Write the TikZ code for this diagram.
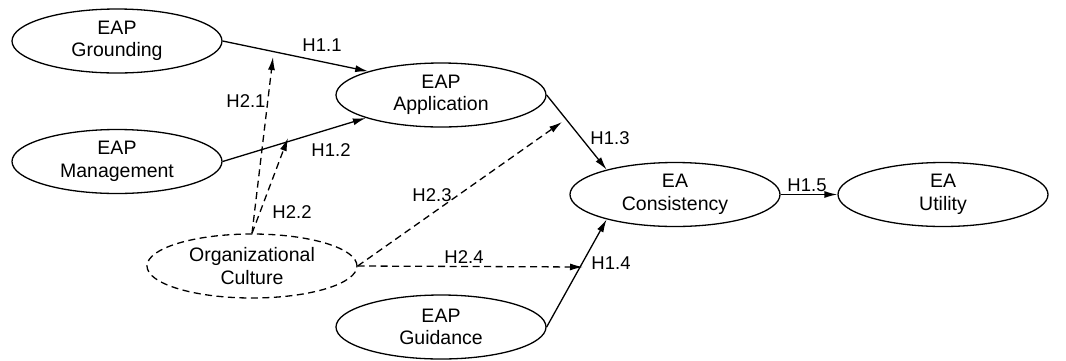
\documentclass[tikz,border=0pt]{standalone}
\usepackage{fontspec}
\setmainfont{Liberation Sans}
\usetikzlibrary{shapes.geometric,arrows.meta}
\tikzset{
  construct/.style={ellipse, draw, line width=1.3pt, minimum width=210pt, minimum height=64pt, inner sep=0pt, align=center, font=\fontsize{19.5}{22.5}\selectfont},
  dashedconstruct/.style={construct, dash pattern=on 7pt off 4.5pt},
  rel/.style={line width=1.3pt, -{Latex[length=13pt,width=7pt]}},
  mod/.style={rel, dash pattern=on 7pt off 4.5pt},
  hlabel/.style={font=\fontsize{18.5}{20}\selectfont, inner sep=0pt}
}
\begin{document}
\begin{tikzpicture}[x=1pt,y=-1pt]
\useasboundingbox (0,0) rectangle (1066,360);
\node[construct] (G) at (117,41) {EAP\\Grounding};
\node[construct] (M) at (117,161.5) {EAP\\Management};
\node[construct] (A) at (441,95) {EAP\\Application};
\node[construct] (C) at (675,194.5) {EA\\Consistency};
\node[construct] (U) at (943,194.5) {EA\\Utility};
\node[construct] (D) at (441,327) {EAP\\Guidance};
\node[dashedconstruct] (O) at (252,266) {Organizational\\Culture};

\coordinate (p21) at (273,57);
\coordinate (p22) at (288,138);
\coordinate (p23) at (562,122);
\coordinate (p24) at (583,267);

\draw[rel] (G.east) -- (A.162);
\draw[rel] (M.east) -- (A.197);
\draw[rel] (A.east) -- (C.160);
\draw[rel] (D.east) -- (C.200);
\draw[rel] (C.east) -- (U.west);

\draw[mod] (O.north) -- (p21);
\draw[mod] (O.north) -- (p22);
\draw[mod] (O.east) -- (p23);
\draw[mod] (O.east) -- (p24);

\node[hlabel] (l11) at (322,45) {H1.1};
\node[hlabel] (l12) at (331,150) {H1.2};
\node[hlabel] (l13) at (610,138) {H1.3};
\node[hlabel] (l14) at (611,263) {H1.4};
\node[hlabel] (l15) at (807,185) {H1.5};
\node[hlabel] (l21) at (246,101) {H2.1};
\node[hlabel] (l22) at (292,212) {H2.2};
\node[hlabel] (l23) at (432,195) {H2.3};
\node[hlabel] (l24) at (464,257) {H2.4};
\end{tikzpicture}
\end{document}
